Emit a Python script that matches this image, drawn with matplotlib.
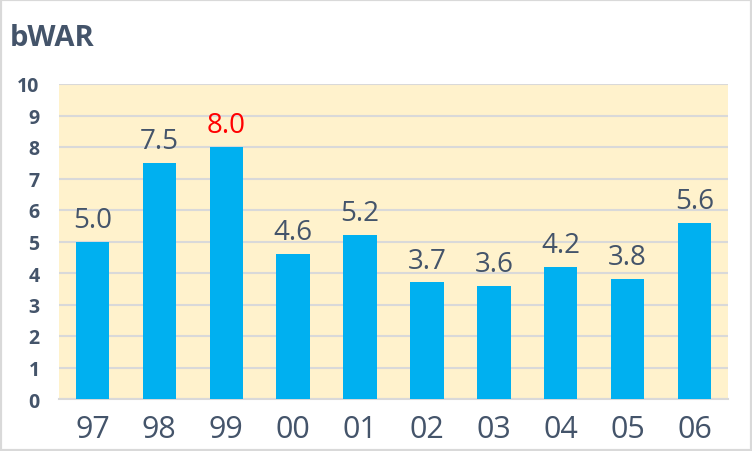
import matplotlib
matplotlib.use("Agg")
import matplotlib.pyplot as plt
from matplotlib.patches import Rectangle

years = ["97", "98", "99", "00", "01", "02", "03", "04", "05", "06"]
bwar = [5.0, 7.5, 8.0, 4.6, 5.2, 3.7, 3.6, 4.2, 3.8, 5.6]
highlight = "99"
yticks = list(range(0, 11))

plt.rcParams['font.family'] = ['Open Sans', 'DejaVu Sans']
text_color = "#44546A"

fig = plt.figure(figsize=(7.52, 4.52), dpi=100)
fig.patch.set_facecolor("white")
ax = fig.add_axes([59/752, 1 - 400/452, 669/752, 315/452])
ax.set_facecolor("#FFF2CC")

x = list(range(len(years)))
ax.bar(x, bwar, width=0.5, color="#00B0F0", zorder=3)
for xi, yr, v in zip(x, years, bwar):
    ax.text(xi, v + 0.25, f"{v:.1f}", ha="center", va="bottom", fontsize=20,
            color="#FF0000" if yr == highlight else text_color, zorder=4)

ax.set_xlim(-0.5, len(years) - 0.5)
ax.set_ylim(0, 10)
ax.set_yticks(yticks)
ax.set_yticklabels([str(t) for t in yticks], fontsize=14, fontweight="bold", color=text_color)
ax.set_xticks(x)
ax.set_xticklabels(years, fontsize=22, color=text_color)
ax.tick_params(axis="both", length=0)
ax.tick_params(axis="x", pad=11)
ax.tick_params(axis="y", pad=14)
ax.grid(axis="y", color="#D9D9D9", linewidth=1.5, zorder=1)
for s in ["top", "right", "left"]:
    ax.spines[s].set_visible(False)
ax.spines["bottom"].set_color("#D9D9D9")
ax.spines["bottom"].set_linewidth(1.5)

fig.text(10/752, 1 - 38/452, "bWAR", fontsize=21, fontweight="bold", color=text_color,
         ha="left", va="center")
fig.patches.append(Rectangle((0, 0), 1, 1, transform=fig.transFigure, fill=False,
                             edgecolor="#D9D9D9", linewidth=3))

fig.savefig("out.png", dpi=100, facecolor="white")
